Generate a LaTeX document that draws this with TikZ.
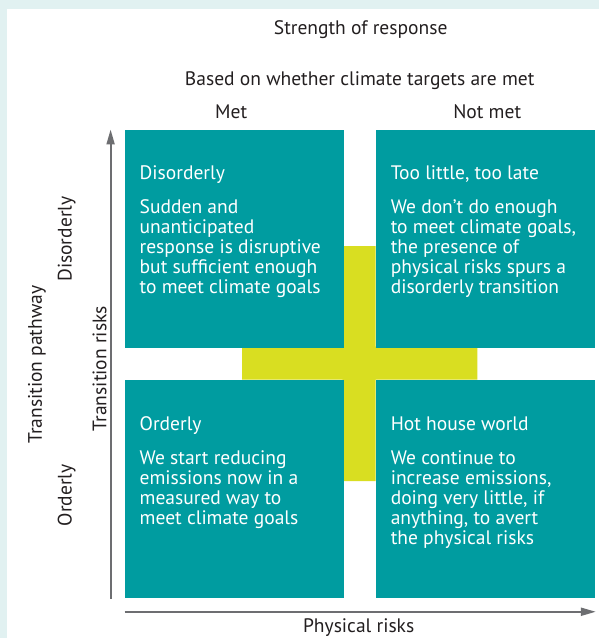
\documentclass[tikz,border=0pt]{standalone}
\usepackage{fontspec}
\setmainfont{PT Sans}
\usetikzlibrary{arrows.meta}
\definecolor{boxteal}{HTML}{009CA0}
\definecolor{crossyellow}{HTML}{D9DE21}
\definecolor{framebg}{HTML}{E1F1F1}
\definecolor{axisgray}{HTML}{6D6E71}
\definecolor{labeltext}{HTML}{231F20}
\begin{document}
\begin{tikzpicture}[x=1pt,y=-1pt,>={Triangle[length=15pt,width=8pt]},font=\fontsize{19.6}{20.3}\selectfont,text=labeltext,
	boxtext/.style={anchor=north west,align=left,text=white,inner sep=0pt},
	axis/.style={draw=axisgray,line width=2pt}]
	\fill[framebg] (0,0) rectangle (601,640);
	\fill[white] (7,9) rectangle (601,640);
	\path
	(111,601) coordinate (V0)
	(111,130) coordinate (V1)
	(125,614) coordinate (H0)
	(598,614) coordinate (H1)
	;
	% cross behind the four panels
	\fill[crossyellow] (344,247) rectangle (377,483) (243,348) rectangle (479,381);
	\foreach \a/\b in {125/130,377/130,125/381,377/381}
	\fill[boxteal] (\a,\b) rectangle ++(220,219);
	\node[boxtext] (disorderly) at (140,166) {Disorderly\\[13.5pt]Sudden and\\unanticipated\\response is disruptive\\but sufficient enough\\to meet climate goals};
	\node[boxtext] (toolate) at (392,166) {Too little, too late\\[13.5pt]We don’t do enough\\to meet climate goals,\\the presence of\\physical risks spurs a\\disorderly transition};
	\node[boxtext] (orderly) at (140,418) {Orderly\\[13.5pt]We start reducing\\emissions now in a\\measured way to\\meet climate goals};
	\node[boxtext] (hothouse) at (392,418) {Hot house world\\[13.5pt]We continue to\\increase emissions,\\doing very little, if\\anything, to avert\\the physical risks};
	\draw[axis,->] (V0)--(V1);
	\draw[axis,->] (H0)--(H1);
	\node (strength) at (362,30) {Strength of response};
	\node (based) at (361,81) {Based on whether climate targets are met};
	\node (met) at (232,112) {Met};
	\node (notmet) at (489,112) {Not met};
	\node[anchor=base] (physical) at (360,635) {Physical risks};
	\foreach \n/\x/\y/\t in {pathway/37/366/Transition pathway,trisks/100/370/Transition risks,ydis/67/240/Disorderly,yord/67/497/Orderly}
	\node[rotate=90] (\n) at (\x,\y) {\t};
\end{tikzpicture}
\end{document}
